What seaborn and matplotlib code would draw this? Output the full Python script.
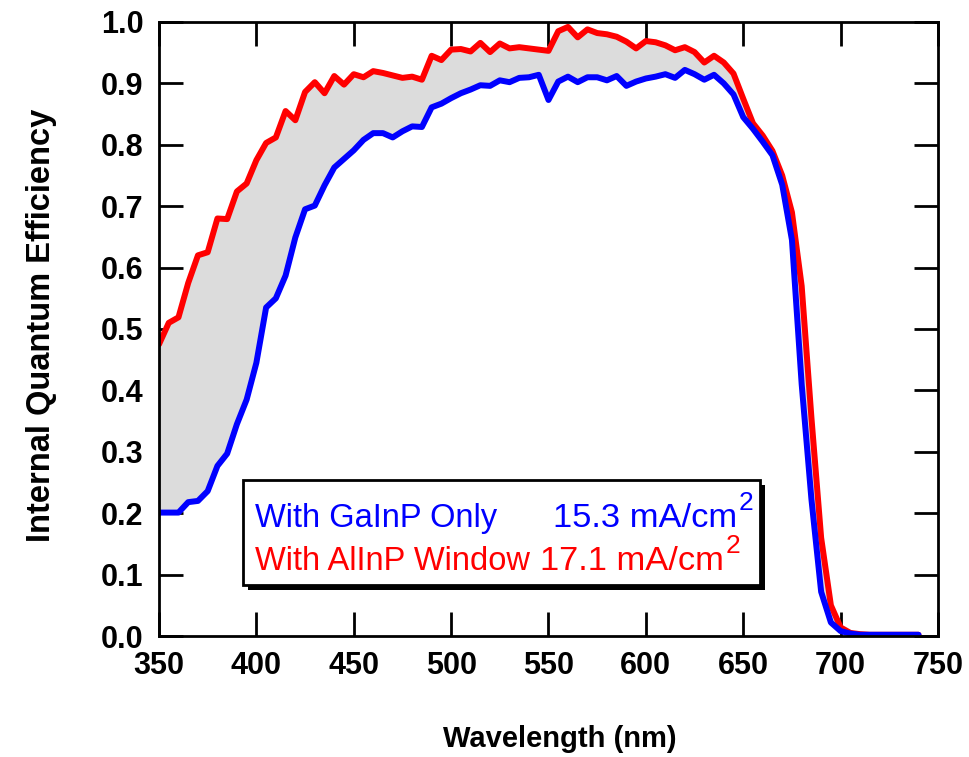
import numpy as np
import pandas as pd
import matplotlib
matplotlib.use("Agg")
import matplotlib.pyplot as plt
from matplotlib.patches import Rectangle
import seaborn as sns

# ---- data ----
wavelength = list(range(350, 745, 5))
iqe_window = [0.475, 0.510, 0.519, 0.575, 0.620, 0.625, 0.680, 0.679, 0.724, 0.737,
              0.775, 0.803, 0.812, 0.855, 0.840, 0.886, 0.902, 0.884, 0.912, 0.898,
              0.915, 0.910, 0.920, 0.917, 0.913, 0.909, 0.911, 0.906, 0.945, 0.938,
              0.955, 0.956, 0.952, 0.966, 0.951, 0.965, 0.957, 0.959, 0.957, 0.955,
              0.953, 0.985, 0.992, 0.975, 0.988, 0.982, 0.980, 0.976, 0.968, 0.957,
              0.969, 0.967, 0.962, 0.954, 0.959, 0.951, 0.934, 0.945, 0.934, 0.916,
              0.875, 0.835, 0.815, 0.790, 0.750, 0.690, 0.570, 0.356, 0.160, 0.050,
              0.014, 0.005, 0.003, 0.002, 0.002, 0.002, 0.002, 0.002, 0.002]
iqe_gainp = [0.201, 0.201, 0.201, 0.218, 0.220, 0.236, 0.277, 0.297, 0.345, 0.385,
             0.445, 0.535, 0.550, 0.587, 0.649, 0.695, 0.701, 0.734, 0.763, 0.777,
             0.791, 0.808, 0.819, 0.819, 0.812, 0.822, 0.830, 0.829, 0.861, 0.867,
             0.876, 0.884, 0.890, 0.897, 0.896, 0.905, 0.902, 0.909, 0.910, 0.914,
             0.873, 0.903, 0.911, 0.902, 0.910, 0.910, 0.905, 0.912, 0.896, 0.903,
             0.908, 0.911, 0.915, 0.909, 0.922, 0.915, 0.906, 0.914, 0.900, 0.882,
             0.845, 0.826, 0.805, 0.783, 0.735, 0.645, 0.410, 0.223, 0.072, 0.022,
             0.008, 0.004, 0.002, 0.002, 0.002, 0.002, 0.002, 0.002, 0.002]
legend_labels = ["With GaInP Only", "With AlInP Window"]
legend_values = ["15.3 mA/cm", "17.1 mA/cm"]
legend_sup = ["2", "2"]
x_ticks = [350, 400, 450, 500, 550, 600, 650, 700, 750]
y_ticks = [0.0, 0.1, 0.2, 0.3, 0.4, 0.5, 0.6, 0.7, 0.8, 0.9, 1.0]

df = pd.DataFrame({"wl": wavelength, "window": iqe_window, "gainp": iqe_gainp})

sns.set_style("ticks")
plt.rcParams["font.family"] = ["Liberation Sans", "DejaVu Sans"]
plt.rcParams["text.color"] = "black"
plt.rcParams["axes.labelcolor"] = "black"
plt.rcParams["xtick.color"] = "black"
plt.rcParams["ytick.color"] = "black"
plt.rcParams["axes.edgecolor"] = "black"

fig = plt.figure(figsize=(9.7, 7.57), dpi=100)
ax = fig.add_axes([159 / 970, 1 - 636 / 757, 779 / 970, 614 / 757])

ax.fill_between(df["wl"], df["gainp"], df["window"], color="#dcdcdc", lw=0, zorder=1)
sns.lineplot(data=df, x="wl", y="window", ax=ax, color="#ff0000", lw=4.3, zorder=3)
sns.lineplot(data=df, x="wl", y="gainp", ax=ax, color="#0000ff", lw=4.3, zorder=4)

ax.set_xlim(350, 750)
ax.set_ylim(0, 1.0)
ax.set_xticks(x_ticks)
ax.set_yticks(y_ticks)
ax.set_xticklabels([str(t) for t in x_ticks])
ax.set_yticklabels([f"{t:.1f}" for t in y_ticks])
ax.tick_params(direction="in", top=True, right=True, length=17, width=2,
               labelsize=22, pad=11, colors="black")
for lab in ax.get_xticklabels() + ax.get_yticklabels():
    lab.set_fontweight("bold")
for s in ax.spines.values():
    s.set_linewidth(2)
    s.set_visible(True)
    s.set_color("black")
    s.set_zorder(10)

ax.set_xlabel("Wavelength (nm)", fontsize=21, fontweight="bold")
ax.set_ylabel("Internal Quantum Efficiency", fontsize=23.5, fontweight="bold")
ax.xaxis.set_label_coords(0.515, -0.145)
ax.yaxis.set_label_coords(-0.1305, 0.5065)

# legend box with drop shadow
bx0, by0, bw, bh = 0.108, 0.083, 0.6635, 0.171
ax.add_patch(Rectangle((bx0 + 0.0065, by0 - 0.008), bw, bh, transform=ax.transAxes,
                       facecolor="black", edgecolor="black", lw=0, zorder=20))
ax.add_patch(Rectangle((bx0, by0), bw, bh, transform=ax.transAxes,
                       facecolor="white", edgecolor="black", lw=2, zorder=21))
colors = ["#0000ff", "#ff0000"]
ys = [0.1775, 0.1075]
vx = [0.506, 0.489]
for lab, val, sup, c, yy, xv in zip(legend_labels, legend_values, legend_sup, colors, ys, vx):
    ax.text(0.123, yy, lab, color=c, fontsize=23.5, transform=ax.transAxes,
            va="baseline", ha="left", zorder=22)
    t = ax.text(xv, yy, val, color=c, fontsize=24.8, transform=ax.transAxes,
                va="baseline", ha="left", zorder=22)
    ax.annotate(sup, xy=(1, 0), xycoords=t, xytext=(1.0, 17.5),
                textcoords="offset points", color=c, fontsize=19,
                va="baseline", ha="left", zorder=22)

fig.savefig("out.png", dpi=100)
